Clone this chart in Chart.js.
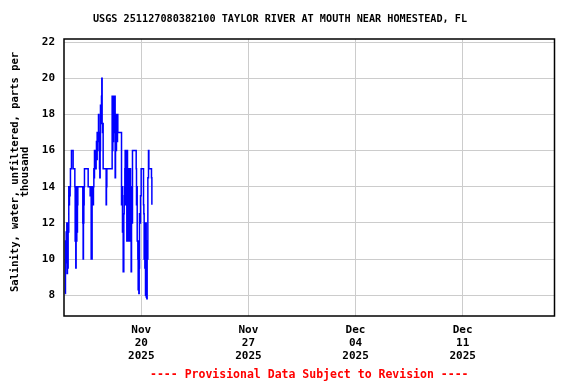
<!DOCTYPE html>
<html>
<head>
<meta charset="utf-8">
<script src="https://cdn.jsdelivr.net/npm/chart.js@4/dist/chart.umd.min.js"></script>
<style>
  html, body { margin: 0; padding: 0; background: #fff; }
  #wrap { width: 576px; height: 384px; }
</style>
</head>
<body>
<div id="wrap"><canvas id="salChart" width="576" height="384"></canvas></div>
<script>
// hours since 2025-11-15 00:00 (local), value holds until the next reading
var HOURS = [
  0.6, 1.1, 1.6, 2.2, 2.7, 3.2, 3.7, 4.2, 4.8, 5.3, 5.8, 6.3, 6.9, 7.4, 7.9, 8.4, 8.9,
  10.0, 10.5, 12.1, 13.1, 15.2, 15.8, 16.3, 16.8, 17.3, 17.8, 18.4, 18.9, 19.4, 19.9, 20.5,
  27.8, 28.3, 28.8, 29.3, 29.9, 30.4, 30.9, 36.1, 36.7, 39.3, 39.8, 40.9, 41.4, 41.9, 42.4,
  42.9, 43.5, 44.5, 45.0, 45.6, 46.1, 46.6, 47.1, 47.7, 48.7, 49.2, 49.7, 50.3, 50.8, 51.3,
  51.8, 52.4, 52.9, 53.4, 53.9, 54.5, 55.0, 55.5, 56.0, 56.5, 57.1, 57.6, 58.1, 58.6, 59.2,
  59.7, 60.2, 64.4, 64.9, 65.4, 66.0, 73.8, 74.3, 74.9, 75.4, 75.9, 76.4, 76.9, 77.5, 78.0,
  78.5, 79.0, 79.6, 80.1, 81.1, 82.2, 82.7, 83.2, 88.4, 89.0, 89.5, 90.5, 91.6, 92.6, 93.2,
  93.7, 94.2, 94.7, 95.2, 95.8, 96.3, 96.8, 97.3, 97.9, 98.4, 98.9, 99.4, 99.9, 100.5, 101.0,
  101.5, 102.0, 102.6, 103.1, 103.6, 104.1, 104.7, 105.2, 105.7, 106.2, 111.5, 112.0, 112.5,
  113.0, 113.6, 114.6, 115.1, 115.6, 116.2, 116.7, 117.2, 118.3, 118.8, 119.8, 123.0, 123.5,
  124.0, 124.5, 125.1, 125.6, 126.1, 126.6, 127.2, 127.7, 128.2, 128.7, 129.2, 129.8, 130.3,
  131.3, 131.9, 132.4, 135.5, 136.0, 136.6
];
var SALINITY = [
  8.1, 11, 9.8, 11.5, 10.5, 12, 9.2, 11.5, 9.5, 12, 11.5, 14, 13, 14, 13.5, 14, 15,
  15, 16, 16, 15, 15, 14, 11, 14, 9.5, 12.5, 11, 14, 11.5, 13, 14,
  14, 12, 10, 12, 13, 14, 15, 15, 14, 14, 13.5, 14, 10, 13, 10,
  13, 14, 13, 14, 15, 14.5, 16, 15, 16, 15, 16, 16.5, 15.5, 17, 16,
  16.5, 17, 18, 17, 16.5, 15, 14.5, 16, 18.5, 17.5, 18.5, 19, 20, 17.5, 17,
  17.5, 15, 15, 13, 14, 15, 15, 19, 16, 19, 16.5, 19, 17, 19, 18,
  19, 14.5, 16, 16, 18, 16.5, 18, 17, 17, 13, 14, 11.5, 9.3, 12.5, 13.5,
  14, 15, 16, 13, 16, 14, 16, 11, 16, 13, 14, 15, 11, 15, 12,
  14, 11, 15, 12.5, 14, 9.3, 13, 14, 12, 16, 16, 15, 13,
  14, 11, 10, 8.3, 11, 8.1, 9.5, 12.5, 12, 13.5, 15, 15, 13,
  12.5, 10, 12, 9.5, 11.5, 8, 12, 7.9, 11, 7.8, 11, 10, 14.5,
  16, 15, 15, 15, 14.5, 13
];

var X_TICK_HOURS = [120, 288, 456, 624];
var X_TICK_LABELS = [["Nov", "20", "2025"], ["Nov", "27", "2025"], ["Dec", "04", "2025"], ["Dec", "11", "2025"]];
var Y_TICKS = [8, 10, 12, 14, 16, 18, 20, 22];

var TITLE = "USGS 251127080382100 TAYLOR RIVER AT MOUTH NEAR HOMESTEAD, FL";
var Y_TITLE = ["Salinity, water, unfiltered, parts per", "thousand"];
var FOOTER = "---- Provisional Data Subject to Revision ----";

var MONO = "'DejaVu Sans Mono', 'Liberation Mono', monospace";

var points = HOURS.map(function (h, i) {
  return { x: h, y: SALINITY[i] };
});

var decorPlugin = {
  id: "usgsDecor",
  afterDraw: function (chart) {
    var ctx = chart.ctx;
    var a = chart.chartArea;
    ctx.save();
    ctx.strokeStyle = "#000";
    ctx.lineWidth = 1.5;
    ctx.strokeRect(a.left, a.top, a.right - a.left, a.bottom - a.top);

    ctx.fillStyle = "#000";
    ctx.font = "bold 10.2px " + MONO;
    ctx.textAlign = "center";
    ctx.textBaseline = "middle";
    ctx.fillText(TITLE, 280, 19);

    ctx.fillStyle = "#f00";
    ctx.font = "bold 11.5px " + MONO;
    ctx.fillText(FOOTER, (a.left + a.right) / 2, 375);

    ctx.fillStyle = "#000";
    ctx.font = "bold 10.5px " + MONO;
    ctx.translate(15, 172);
    ctx.rotate(-Math.PI / 2);
    ctx.fillText(Y_TITLE[0], 0, 0);
    ctx.fillText(Y_TITLE[1], 0, 10.5);
    ctx.restore();
  },
};

new Chart(document.getElementById("salChart"), {
  type: "line",
  data: {
    datasets: [
      {
        data: points,
        borderColor: "#0000ff",
        borderWidth: 1.5,
        pointRadius: 0,
        fill: false,
        stepped: "before",
      },
    ],
  },
  options: {
    responsive: false,
    animation: false,
    events: [],
    layout: { padding: { top: 39, right: 21.5, left: 0, bottom: 0 } },
    plugins: { legend: { display: false }, tooltip: { enabled: false } },
    scales: {
      x: {
        type: "linear",
        min: -1.2,
        max: 768,
        afterBuildTicks: function (scale) {
          scale.ticks = X_TICK_HOURS.map(function (v) {
            return { value: v };
          });
        },
        afterFit: function (scale) {
          scale.height = 68;
        },
        grid: { color: "#cccccc", lineWidth: 1, drawTicks: false },
        border: { display: false },
        ticks: {
          color: "#000",
          padding: 8,
          maxRotation: 0,
          autoSkip: false,
          font: { family: MONO, size: 11, weight: "bold", lineHeight: 1.18 },
          callback: function (value) {
            var i = X_TICK_HOURS.indexOf(value);
            return i >= 0 ? X_TICK_LABELS[i] : "";
          },
        },
      },
      y: {
        min: 6.85,
        max: 22.17,
        afterBuildTicks: function (scale) {
          scale.ticks = Y_TICKS.map(function (v) {
            return { value: v };
          });
        },
        afterFit: function (scale) {
          scale.width = 64;
        },
        grid: { color: "#cccccc", lineWidth: 1, drawTicks: false },
        border: { display: false },
        ticks: {
          color: "#000",
          padding: 9,
          font: { family: MONO, size: 11, weight: "bold" },
        },
      },
    },
  },
  plugins: [decorPlugin],
});
</script>
</body>
</html>
